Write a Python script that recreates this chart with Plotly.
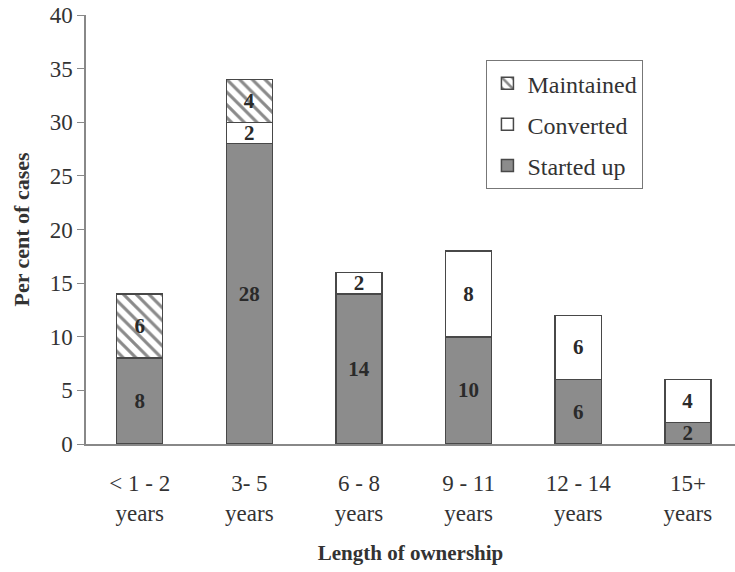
import plotly.graph_objects as go

categories = ["< 1 - 2<br>years", "3- 5<br>years", "6 - 8<br>years",
              "9 - 11<br>years", "12 - 14<br>years", "15+<br>years"]
started_up = [8, 28, 14, 10, 6, 2]
converted = [None, 2, 2, 8, 6, 4]
maintained = [6, 4, None, None, None, None]

font_family = "Liberation Serif"
outline = dict(color="#484848", width=1.5)
txtfont = dict(family=font_family, size=21, color="#2a2a2a")
tt = "<b>%{y}</b>"

fig = go.Figure()
fig.add_trace(go.Bar(
    x=categories, y=started_up, name="Started up", legendgroup="s", legendrank=3,
    marker=dict(color="#8c8c8c", line=outline),
    texttemplate=tt, textposition="inside", insidetextanchor="middle",
    textangle=0, constraintext="none", textfont=txtfont,
))
fig.add_trace(go.Bar(
    x=categories, y=converted, name="Converted", legendgroup="c", legendrank=2,
    marker=dict(color="white", line=outline),
    texttemplate=tt, textposition="inside", insidetextanchor="middle",
    textangle=0, constraintext="none", textfont=txtfont,
))
fig.add_trace(go.Bar(
    x=categories, y=maintained, name="Maintained", legendgroup="m", legendrank=1,
    marker=dict(color="white", line=outline,
                pattern=dict(shape="\\", fgcolor="#8a8a8a", bgcolor="white",
                             size=9, solidity=0.35, fillmode="replace")),
    texttemplate=tt, textposition="inside", insidetextanchor="middle",
    textangle=0, constraintext="none", textfont=txtfont,
))

fig.update_layout(
    barmode="stack",
    bargap=0.58,
    width=735, height=572,
    margin=dict(l=86, r=0, t=15, b=128),
    paper_bgcolor="white", plot_bgcolor="white",
    font=dict(family=font_family, size=20, color="#333"),
    showlegend=True,
    legend=dict(
        x=0.617, y=0.895, xanchor="left", yanchor="top",
        bordercolor="#777", borderwidth=1, bgcolor="white",
        font=dict(family=font_family, size=24, color="#333"),
        traceorder="grouped", tracegroupgap=7,
        itemwidth=30,
    ),
    xaxis=dict(
        range=[-0.49, 5.43],
        showline=True, linecolor="#888", linewidth=1.5,
        ticks="", showgrid=False, ticklabelstandoff=18,
        tickfont=dict(family=font_family, size=23, color="#333"),
        title=dict(text="<b>Length of ownership</b>",
                   font=dict(family=font_family, size=21, color="#333"),
                   standoff=20),
    ),
    yaxis=dict(
        range=[0, 40], dtick=5,
        showline=True, linecolor="#888", linewidth=1.5,
        ticks="outside", ticklen=7, tickcolor="#888",
        showgrid=False, zeroline=False,
        tickfont=dict(family=font_family, size=23, color="#333"),
        title=dict(text="<b>Per cent of cases</b>",
                   font=dict(family=font_family, size=22, color="#333"),
                   standoff=14),
    ),
)

fig.write_html("out.html")
